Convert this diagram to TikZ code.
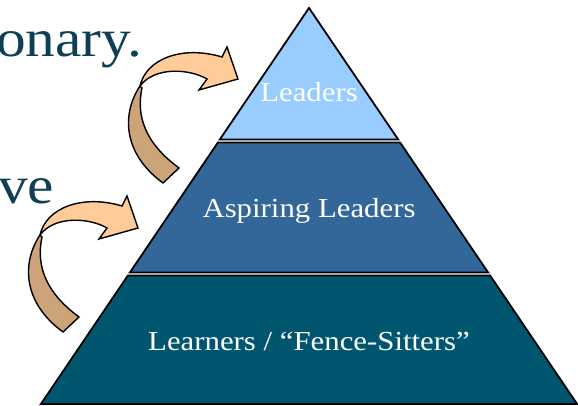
\documentclass[tikz,border=0pt]{standalone}
\usepackage{fontspec}
\setmainfont[FakeStretch=1.12]{Liberation Serif}
\definecolor{tierA}{HTML}{99CCFF}
\definecolor{tierB}{HTML}{336699}
\definecolor{tierC}{HTML}{00566F}
\definecolor{arrowLight}{HTML}{FFCC99}
\definecolor{arrowDark}{HTML}{CDA37A}
\definecolor{slideText}{HTML}{0E3F55}
\newcommand{\bentarrow}[1]{%
  \begin{scope}[shift={#1}]
    \draw[arrowline, fill=arrowDark]
      (40,235) .. controls (22,262) and (22,302) .. (63,332)
      -- (79,317) .. controls (45,292) and (36,265) .. (42,237) -- cycle;
    \draw[arrowline, fill=arrowLight]
      (40,235) .. controls (46,208) and (82,194) .. (122,206)
      -- (127,196) -- (138,228) -- (99,239) -- (107,228)
      .. controls (90,218) and (55,215) .. (40,235) -- cycle;
  \end{scope}}
\tikzset{
  tier/.style={draw=black, line width=1.8pt, line join=miter},
  arrowline/.style={draw=black, line width=1.4pt, line join=miter},
  tierlabel/.style={text=white, font=\fontsize{27.5}{30}\selectfont, anchor=base, inner sep=0pt},
  slidetext/.style={text=slideText, font=\fontsize{53}{58}\selectfont, anchor=base west, inner sep=0pt}
}
\begin{document}
\begin{tikzpicture}[x=1pt,y=-1pt]
\useasboundingbox (0,0) rectangle (578,406);
% background slide text (cropped)
\node[slidetext] (t1) at (-4,57) {onary.};
\node[slidetext] (t2) at (-2,204) {ve};
% pyramid tiers
\draw[tier, fill=tierA] (309,8) -- (398.2,139.5) -- (219.8,139.5) -- cycle;
\draw[tier, fill=tierB] (217.9,142.5) -- (400.1,142.5) -- (488.1,272.5) -- (129.9,272.5) -- cycle;
\draw[tier, fill=tierC] (127.9,275.5) -- (490.1,275.5) -- (577.1,404) -- (40.9,404) -- cycle;
\node[tierlabel] (lead) at (309,102) {Leaders};
\node[tierlabel] (asp) at (309,218) {Aspiring Leaders};
\node[tierlabel] (learn) at (309,350) {Learners / “Fence-Sitters”};
% curved arrows
\bentarrow{(0,0)}
\bentarrow{(100,-149)}
\end{tikzpicture}
\end{document}
